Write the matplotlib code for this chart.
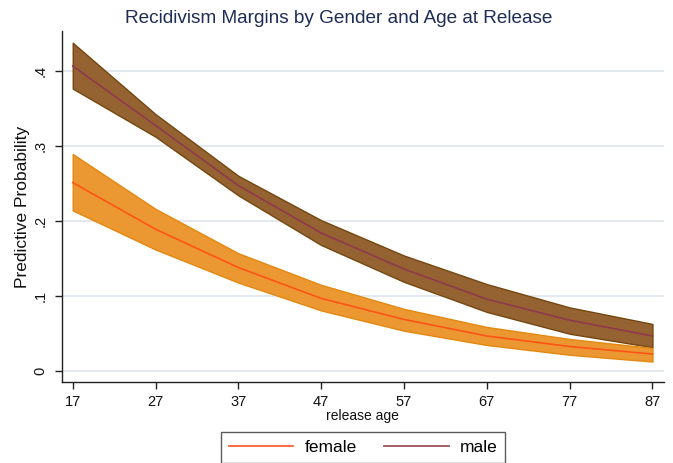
import matplotlib
matplotlib.use("Agg")
import matplotlib.pyplot as plt

plt.rcParams['font.family'] = ['Liberation Sans', 'DejaVu Sans']

# predicted probability of recidivism by age at release, with 95% CI
ages = [17, 27, 37, 47, 57, 67, 77, 87]

female_mean = [0.251, 0.189, 0.138, 0.097, 0.069, 0.047, 0.033, 0.023]
female_lo = [0.214, 0.162, 0.118, 0.081, 0.054, 0.035, 0.022, 0.013]
female_hi = [0.289, 0.216, 0.157, 0.115, 0.083, 0.059, 0.043, 0.031]

male_mean = [0.406, 0.327, 0.247, 0.184, 0.136, 0.096, 0.068, 0.047]
male_lo = [0.376, 0.312, 0.234, 0.168, 0.119, 0.079, 0.050, 0.032]
male_hi = [0.437, 0.342, 0.260, 0.201, 0.154, 0.116, 0.085, 0.063]

yticks = [0, 0.1, 0.2, 0.3, 0.4]
ytick_labels = ['0', '.1', '.2', '.3', '.4']

fig = plt.figure(figsize=(6.73, 4.63), dpi=100)
ax = fig.add_axes([0.0917, 0.1743, 0.895, 0.7594])

ax.fill_between(ages, male_lo, male_hi, facecolor='#956232', edgecolor='#74470f',
                linewidth=1, zorder=2)
ax.fill_between(ages, female_lo, female_hi, facecolor='#eb9833', edgecolor='#e4880f',
                linewidth=1, zorder=3)
ax.plot(ages, male_mean, color='#8e3a4c', linewidth=1.2, zorder=4)
ax.plot(ages, female_mean, color='#ff5414', linewidth=1.2, zorder=5)

ax.set_xlim(15.67, 88.4)
ax.set_ylim(-0.0146, 0.453)
ax.set_xticks(ages)
ax.set_yticks(yticks)
ax.set_yticklabels(ytick_labels, rotation=90, va='center')
ax.tick_params(axis='both', labelsize=10.5, length=5, width=1, color='#222222',
               labelcolor='#111111')
ax.tick_params(axis='x', pad=4)
ax.tick_params(axis='y', pad=5)

ax.grid(axis='y', color='#dfe5ee', linewidth=1.2, zorder=0)
ax.set_axisbelow(True)
for side in ['top', 'right']:
    ax.spines[side].set_visible(False)
for side in ['left', 'bottom']:
    ax.spines[side].set_color('#222222')
    ax.spines[side].set_linewidth(1)

ax.set_xlabel('release age', fontsize=10, labelpad=0, color='#111111')
ax.set_ylabel('Predictive Probability', fontsize=12.5, labelpad=3, color='#111111')
fig.suptitle('Recidivism Margins by Gender and Age at Release', fontsize=13.7,
             color='#1e2d55', y=0.978, x=0.503)

handles = [plt.Line2D([], [], color='#ff6030', linewidth=1.3),
           plt.Line2D([], [], color='#a04f5e', linewidth=1.3)]
leg = fig.legend(handles, ['female', 'male'], loc='upper left',
                 bbox_to_anchor=(221 / 673, 1 - 432 / 463), ncol=2,
                 fontsize=12.5, handlelength=3.7, handletextpad=0.65,
                 columnspacing=1.6, borderpad=0.45, fancybox=False,
                 frameon=True, borderaxespad=0)
leg.get_frame().set_edgecolor('#333333')
leg.get_frame().set_linewidth(1)

fig.savefig('out.png', dpi=100)
